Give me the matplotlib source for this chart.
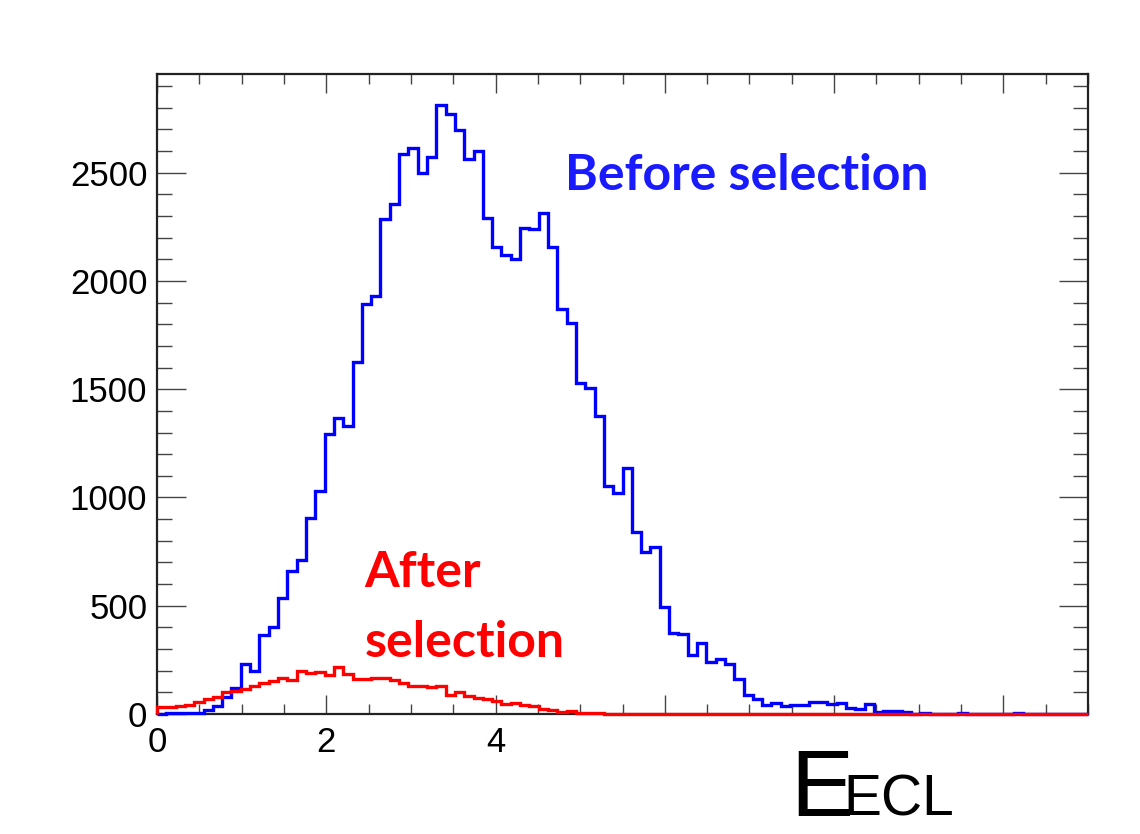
import matplotlib
matplotlib.use('Agg')
import matplotlib.pyplot as plt
import numpy as np
from matplotlib.ticker import MultipleLocator

# histogram binning: 100 bins from 0 to 11
x_min = 0.0
x_max = 11.0
n_bins = 100

# bin contents (blue = before, red = after selection)
before = [2, 3, 3, 3, 5, 18, 37, 80, 119, 229,
          200, 365, 400, 534, 660, 711, 904, 1030, 1292, 1366,
          1330, 1627, 1892, 1931, 2285, 2356, 2585, 2616, 2500, 2574,
          2813, 2770, 2697, 2563, 2600, 2289, 2159, 2120, 2102, 2243,
          2239, 2316, 2156, 1869, 1805, 1527, 1507, 1376, 1053, 1022,
          1135, 842, 750, 770, 494, 372, 370, 273, 330, 242,
          252, 231, 160, 88, 68, 42, 49, 37, 42, 42,
          57, 57, 45, 49, 29, 23, 45, 9, 12, 12,
          9, 0, 5, 0, 0, 0, 5, 0, 0, 0,
          0, 0, 5, 0, 0, 0, 0, 0, 0, 0]

after = [31, 31, 35, 42, 55, 68, 80, 100, 105, 115,
         130, 142, 153, 165, 155, 198, 190, 193, 180, 219,
         183, 162, 162, 166, 165, 155, 145, 130, 128, 126,
         128, 88, 103, 85, 75, 68, 62, 48, 50, 40,
         35, 22, 18, 11, 13, 6, 3, 3, 2, 1] + [0] * 50

x_ticks = [0, 2, 4, 6, 8, 10]
x_ticklabels = ['0', '2', '4', '', '', '']
y_ticks = [0, 500, 1000, 1500, 2000, 2500]

edges = np.linspace(x_min, x_max, n_bins + 1)

fig = plt.figure(figsize=(11.4, 8.34), dpi=100)
ax = fig.add_axes([157/1140, 1-714/834, (1088-157)/1140, (714-74)/834])

plt.rcParams['font.family'] = 'Liberation Sans'

# drawn above the frame so the red line along zero stays visible
ax.stairs(before, edges, color='#0000ff', lw=2.4, baseline=0,
          zorder=3, clip_on=False)
ax.stairs(after, edges, color='#ff0000', lw=2.4, baseline=0,
          zorder=4, clip_on=False)

ax.set_xlim(x_min, x_max)
ax.set_ylim(0, 2956)

ax.set_xticks(x_ticks)
ax.set_xticklabels(x_ticklabels, fontsize=25, family='Liberation Sans')
ax.set_yticks(y_ticks)
ax.set_yticklabels([str(v) for v in y_ticks], fontsize=25, family='Liberation Sans')
ax.xaxis.set_minor_locator(MultipleLocator(0.5))
ax.yaxis.set_minor_locator(MultipleLocator(100))

ax.tick_params(axis='x', which='major', direction='in', length=14, width=1.0,
               color='#444444', top=True, bottom=True, pad=9)
ax.tick_params(axis='x', which='minor', direction='in', length=7, width=1.0,
               color='#444444', top=True, bottom=True)
ax.tick_params(axis='y', which='major', direction='in', length=21, width=1.0,
               color='#444444', left=True, right=True, pad=7)
ax.tick_params(axis='y', which='minor', direction='in', length=11, width=1.0,
               color='#444444', left=True, right=True)
for s in ax.spines.values():
    s.set_linewidth(1.6)
    s.set_color('#222222')

ax.text(4.82, 2420, 'Before selection', color='#1a1aff', fontsize=36,
        family='Lato', fontweight='bold', va='baseline', ha='left')
ax.text(2.45, 587, 'After', color='#ff0000', fontsize=36,
        family='Lato', fontweight='bold', va='baseline', ha='left')
ax.text(2.45, 263, 'selection', color='#ff0000', fontsize=36,
        family='Lato', fontweight='bold', va='baseline', ha='left')

# axis title sits under the frame, bottom right (E with ECL subscript)
fig.text(790/1140, 1-816/834, 'E', fontsize=68, family='Liberation Sans',
         va='baseline', ha='left')
fig.text(843/1140, 1-816/834, 'ECL', fontsize=41, family='Liberation Sans',
         va='baseline', ha='left')

fig.savefig('out.png', dpi=100)
